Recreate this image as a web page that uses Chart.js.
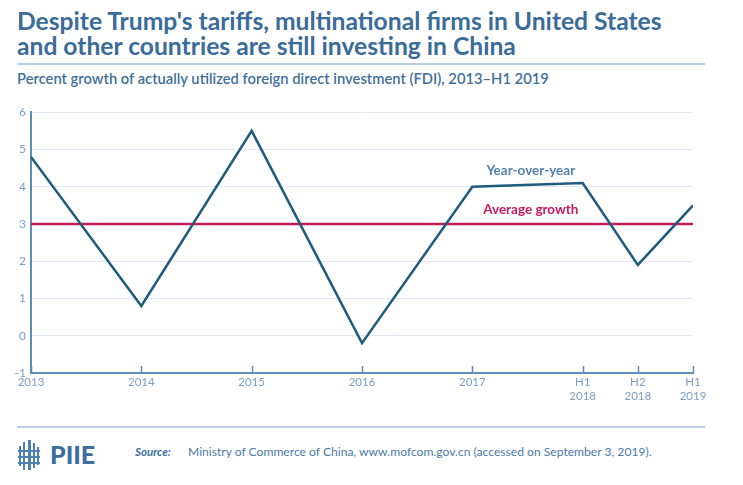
<!DOCTYPE html>
<html><head><meta charset="utf-8">
<script src="https://cdn.jsdelivr.net/npm/chart.js@4/dist/chart.umd.min.js"></script>
<style>
html,body{margin:0;padding:0;background:#fff;}
#page{position:relative;width:743px;height:485px;overflow:hidden;font-family:Lato,'Open Sans',sans-serif;}
.t{position:absolute;white-space:nowrap;}
#title{left:17px;top:8px;font-weight:700;font-size:21px;line-height:25px;color:#3a6b99;}
#title span{display:inline-block;}
#sub{left:17px;top:70px;font-size:12.5px;line-height:16px;color:#3f6f9c;font-weight:600;}
.rule{position:absolute;left:17px;width:688px;height:1.5px;background:#bccfe2;}
#wrap{position:absolute;left:0;top:100px;width:743px;height:313px;}
#logoTxt{left:50px;top:439px;font-size:25px;line-height:30px;font-weight:900;color:#3d6e9e;}
#srcLbl{left:135px;top:444px;font-size:11.5px;line-height:15px;font-weight:700;font-style:italic;color:#3d6e9e;}
#srcTxt{left:188px;top:444px;font-size:11.5px;line-height:15px;color:#4a79a6;}
.ic{position:absolute;background:#4f80b2;}
</style></head><body>
<div id="page">
  <div id="title" class="t"><span id="tl1">Despite Trump's tariffs, multinational firms in United States</span><br><span id="tl2">and other countries are still investing in China</span></div>
  <div class="rule" style="top:63px"></div>
  <div id="sub" class="t">Percent growth of actually utilized foreign direct investment (FDI), 2013–H1 2019</div>
  <div id="wrap"><canvas id="c" width="743" height="313"></canvas></div>
  <div class="rule" style="top:426px"></div>
  <div class="ic" style="left:19px;top:446px;width:2px;height:20px"></div>
  <div class="ic" style="left:23px;top:442px;width:2px;height:28px"></div>
  <div class="ic" style="left:28px;top:440px;width:2.5px;height:30px"></div>
  <div class="ic" style="left:33px;top:443px;width:2px;height:25px"></div>
  <div class="ic" style="left:37px;top:447px;width:2px;height:18px"></div>
  <div class="ic" style="left:18px;top:450px;width:22px;height:2px"></div>
  <div class="ic" style="left:18px;top:456px;width:22px;height:2px"></div>
  <div class="ic" style="left:18px;top:462px;width:22px;height:2px"></div>
  <div id="logoTxt" class="t">PIIE</div>
  <div id="srcLbl" class="t">Source:</div>
  <div id="srcTxt" class="t">Ministry of Commerce of China, www.mofcom.gov.cn (accessed on September 3, 2019).</div>
</div>
<script>
// ---- data ----
const xPositions = [0, 1, 2, 3, 4, 5, 5.5, 6];
const xTickLabels = ['2013', '2014', '2015', '2016', '2017', ['H1', '2018'], ['H2', '2018'], ['H1', '2019']];
const yoyGrowth = [4.8, 0.8, 5.5, -0.2, 4.0, 4.1, 1.9, 3.5];
const averageGrowth = 3.0;
const seriesLabels = ['Year-over-year', 'Average growth'];
const yTicks = [-1, 0, 1, 2, 3, 4, 5, 6];

// ---- text fitting ----
function fitWidth(el, target) {
  const w = el.getBoundingClientRect().width;
  const fs = parseFloat(getComputedStyle(el).fontSize);
  return fs * target / w;
}
const tfs = fitWidth(document.getElementById('tl1'), 645);
document.getElementById('title').style.fontSize = tfs + 'px';
const sub = document.getElementById('sub');
sub.style.fontSize = fitWidth(sub, 532) + 'px';
const st = document.getElementById('srcTxt');
st.style.fontSize = fitWidth(st, 464) + 'px';

const AXIS = '#5f8bb8', TICKC = '#7b9dc4', BLUE = '#1f5b7d', RED = '#c8185c';

const tickMarks = {
  id: 'tickMarks',
  afterDatasetsDraw(chart) {
    const {ctx, scales: {x}, chartArea} = chart;
    ctx.save();
    ctx.strokeStyle = AXIS; ctx.lineWidth = 1.5;
    xPositions.forEach(v => {
      const px = Math.round(x.getPixelForValue(v)) + 0.5;
      ctx.beginPath(); ctx.moveTo(px, chartArea.bottom); ctx.lineTo(px, chartArea.bottom - 7); ctx.stroke();
    });
    ctx.restore();
  }
};
const seriesNames = {
  id: 'seriesNames',
  afterDatasetsDraw(chart, args, opts) {
    const {ctx, scales: {x, y}} = chart;
    ctx.save();
    ctx.font = 'bold 13.5px Lato, sans-serif';
    ctx.textAlign = 'center'; ctx.textBaseline = 'middle';
    opts.items.forEach(it => {
      ctx.fillStyle = it.color;
      ctx.fillText(it.text, x.getPixelForValue(it.x), y.getPixelForValue(it.y));
    });
    ctx.restore();
  }
};

new Chart(document.getElementById('c'), {
  type: 'line',
  data: {
    datasets: [
      {label: seriesLabels[0], data: xPositions.map((v, i) => ({x: v, y: yoyGrowth[i]})),
       borderColor: BLUE, borderWidth: 2.5, pointRadius: 0, tension: 0, borderJoinStyle: 'miter', borderCapStyle: 'butt'},
      {label: seriesLabels[1], data: [{x: xPositions[0], y: averageGrowth}, {x: xPositions[xPositions.length - 1], y: averageGrowth}],
       borderColor: RED, borderWidth: 2.5, pointRadius: 0}
    ]
  },
  options: {
    responsive: false, animation: false,
    layout: {padding: {left: 0, right: 50, top: 12, bottom: 0}},
    plugins: {
      legend: {display: false}, tooltip: {enabled: false},
      seriesNames: {items: [
        {text: seriesLabels[0], x: 4.53, y: 4.42, color: '#5480ae'},
        {text: seriesLabels[1], x: 4.53, y: 3.38, color: RED}
      ]}
    },
    scales: {
      x: {
        type: 'linear', min: 0, max: 6,
        afterBuildTicks: s => { s.ticks = xPositions.map(v => ({value: v})); },
        afterFit: s => { s.height = 40; },
        grid: {display: false, drawTicks: false},
        border: {display: true, color: AXIS, width: 2},
        ticks: {autoSkip: false, maxRotation: 0, padding: 3, color: TICKC,
          font: {family: 'Lato, sans-serif', size: 11.5, lineHeight: 1.15},
          callback: (v) => xTickLabels[xPositions.indexOf(v)]}
      },
      y: {
        min: -1, max: 6,
        afterBuildTicks: s => { s.ticks = yTicks.map(v => ({value: v})); },
        afterFit: s => { s.width = 31; },
        grid: {color: '#dfe8f2', lineWidth: 1, drawTicks: false},
        border: {display: true, color: AXIS, width: 2},
        ticks: {padding: 5, color: TICKC, font: {family: 'Lato, sans-serif', size: 12}}
      }
    }
  },
  plugins: [tickMarks, seriesNames]
});
</script>
</body></html>
